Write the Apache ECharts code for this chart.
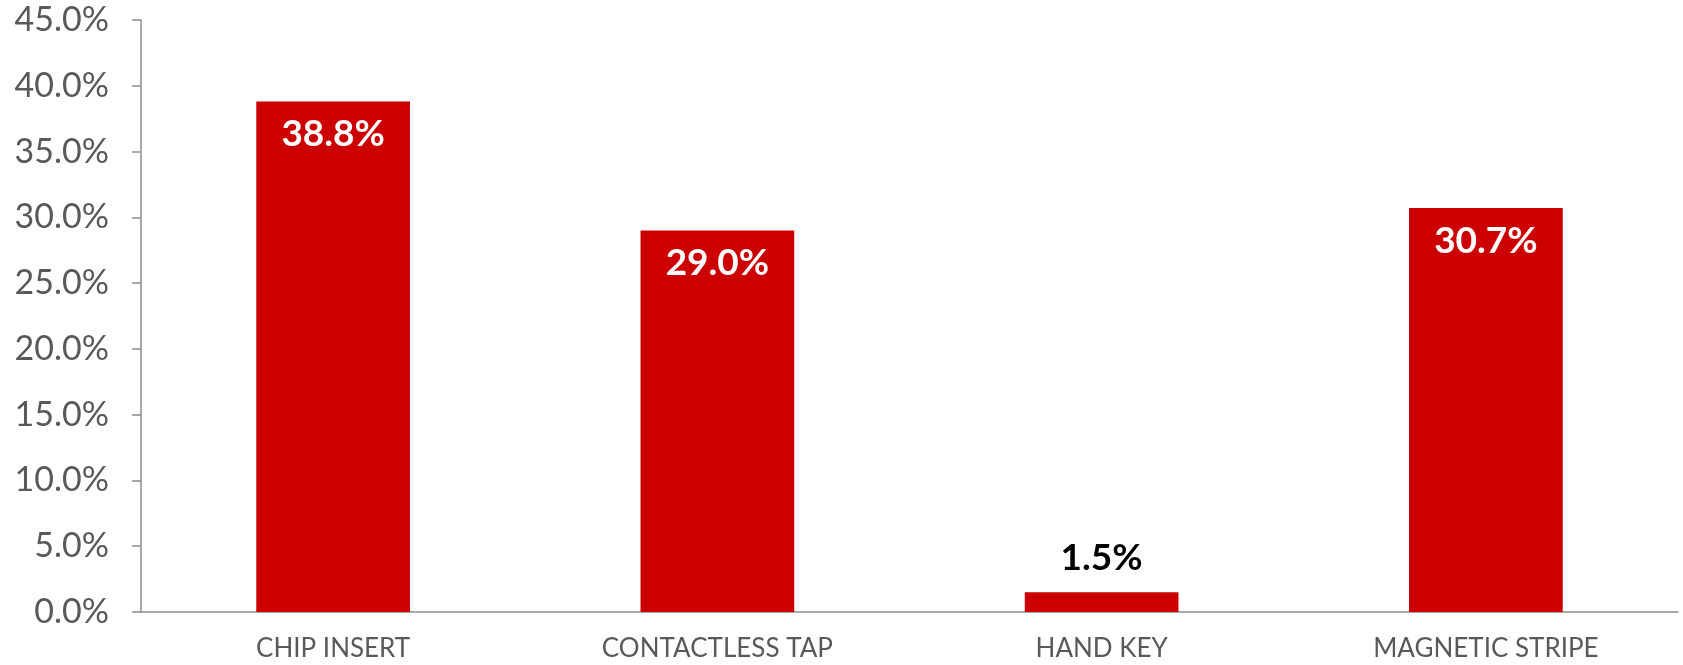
<!DOCTYPE html>
<html>
<head>
<meta charset="utf-8">
<script src="https://cdn.jsdelivr.net/npm/echarts@6/dist/echarts.min.js"></script>
<style>
    html, body { margin: 0; padding: 0; background: #fff; }
    #chart { width: 1683px; height: 665px; }
</style>
</head>
<body>
<div id="chart"></div>
<script>
'use strict';

var categories = ['CHIP INSERT', 'CONTACTLESS TAP', 'HAND KEY', 'MAGNETIC STRIPE'];
var shares = [38.8, 29.0, 1.5, 30.7];
// bars too short for an inside label get it on top, in black
var labelOutside = [false, false, true, false];

var barColor = '#cc0000';
var axisColor = '#8c8c8c';
var textColor = '#595959';

var seriesData = shares.map(function (v, i) {
    var item = { value: v };
    if (labelOutside[i]) {
        item.label = { position: 'top', color: '#000', distance: 16 };
    }
    return item;
});

var myChart = echarts.init(document.getElementById('chart'));

var option = {
    backgroundColor: '#fff',
    animation: false,
    grid: {
        left: 141,
        right: 5,
        top: 20,
        bottom: 53
    },
    xAxis: {
        type: 'category',
        data: categories,
        axisLine: { lineStyle: { color: axisColor, width: 1.5 } },
        axisTick: { alignWithLabel: false, length: 10, lineStyle: { color: axisColor, width: 1.5 } },
        axisLabel: {
            color: textColor,
            fontFamily: 'Lato',
            fontSize: 26,
            margin: 24
        }
    },
    yAxis: {
        type: 'value',
        min: 0,
        max: 45,
        interval: 5,
        splitLine: { show: false },
        axisLine: { show: true, lineStyle: { color: axisColor, width: 1.5 } },
        axisTick: { show: true, length: 9, lineStyle: { color: axisColor, width: 1.5 } },
        axisLabel: {
            color: textColor,
            fontFamily: 'Lato',
            fontSize: 34,
            margin: 32,
            formatter: function (v) {
                return v.toFixed(1) + '%';
            }
        }
    },
    series: [
        {
            type: 'bar',
            data: seriesData,
            barWidth: '40%',
            itemStyle: { color: barColor },
            label: {
                show: true,
                position: 'insideTop',
                distance: 14,
                color: '#fff',
                fontFamily: 'Lato',
                fontWeight: 'bold',
                fontSize: 37,
                formatter: function (p) {
                    return p.value.toFixed(1) + '%';
                }
            }
        }
    ]
};
myChart.setOption(option);
</script>
</body>
</html>
